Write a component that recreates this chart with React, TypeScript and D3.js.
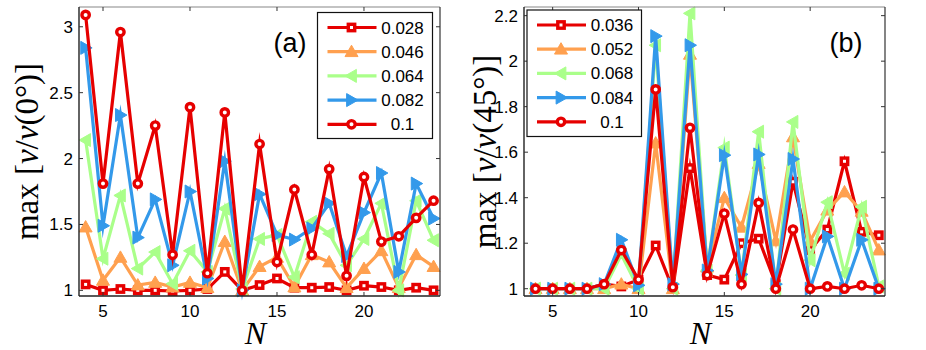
import React, { useEffect, useRef } from "react";
import * as d3 from "d3";

// N values shared by both panels
const nValues = [4, 5, 6, 7, 8, 9, 10, 11, 12, 13, 14, 15, 16, 17, 18, 19, 20, 21, 22, 23, 24];
const xTicks = [5, 10, 15, 20];
const yTicksA = [1, 1.5, 2, 2.5, 3];
const yTicksB = [1, 1.2, 1.4, 1.6, 1.8, 2, 2.2];

// panel (a): max[v/v(0°)]
const labelsA = ["0.028", "0.046", "0.064", "0.082", "0.1"];
const a028 = [1.045, 1.0, 1.01, 1.0, 1.0, 0.995, 1.0, 1.01, 1.14, 1.0, 1.04, 1.09, 1.02, 1.02, 1.025, 1.0, 1.035, 1.025, 1.0, 1.02, 1.0];
const a046 = [1.48, 1.076, 1.25, 1.04, 1.06, 1.025, 1.06, 1.02, 1.37, 1.0, 1.18, 1.25, 1.025, 1.27, 1.215, 1.02, 1.165, 1.3, 1.02, 1.27, 1.18];
const a064 = [2.14, 1.24, 1.72, 1.165, 1.29, 1.05, 1.3, 1.14, 1.62, 1.01, 1.39, 1.42, 1.1, 1.52, 1.43, 1.19, 1.39, 1.66, 1.0, 1.68, 1.38];
const a082 = [2.84, 1.49, 2.33, 1.4, 1.69, 1.19, 1.75, 1.09, 1.98, 1.0, 1.73, 1.42, 1.385, 1.47, 1.66, 1.26, 1.59, 1.89, 1.14, 1.81, 1.545];
const a100 = [3.09, 1.81, 2.96, 1.81, 2.25, 1.27, 2.39, 1.13, 2.35, 1.0, 2.11, 1.215, 1.765, 1.27, 1.92, 1.11, 1.86, 1.37, 1.41, 1.55, 1.68];

// panel (b): max[v/v(45°)]
const labelsB = ["0.036", "0.052", "0.068", "0.084", "0.1"];
const b036 = [1.0, 1.0, 1.0, 1.0, 1.02, 1.01, 1.04, 1.19, 1.0, 1.53, 1.06, 1.04, 1.2, 1.22, 1.02, 1.47, 1.17, 1.26, 1.56, 1.25, 1.235];
const b052 = [1.0, 1.0, 1.0, 1.0, 1.0, 1.02, 1.0, 1.64, 1.0, 2.03, 1.095, 1.4, 1.27, 1.55, 1.21, 1.667, 1.21, 1.345, 1.425, 1.34, 1.17];
const b068 = [1.0, 1.0, 1.0, 1.0, 1.0, 1.15, 1.0, 2.07, 1.0, 2.21, 1.08, 1.62, 1.06, 1.69, 1.0, 1.733, 1.125, 1.38, 1.066, 1.36, 1.01];
const b084 = [1.0, 1.0, 1.0, 1.0, 1.02, 1.215, 1.015, 2.11, 1.02, 2.07, 1.08, 1.587, 1.063, 1.59, 1.02, 1.57, 1.0, 1.23, 1.0, 1.215, 1.0];
const b100 = [1.0, 1.0, 1.0, 1.0, 1.02, 1.17, 1.04, 1.876, 1.007, 1.707, 1.06, 1.33, 1.02, 1.377, 1.0, 1.26, 1.0, 1.01, 1.0, 1.015, 1.0];

const colors = ["#e60000", "#ffa04f", "#aaff8a", "#3399ea", "#e60000"];
const markers = ["square", "up", "left", "right", "circle"];

const SANS = "'Liberation Sans', Arial, sans-serif";
const SERIF = "'Liberation Serif', 'Times New Roman', serif";

function drawMarker(g, type, x, y, color) {
  if (type === "square") {
    g.append("rect")
      .attr("x", x - 3.2).attr("y", y - 3.2).attr("width", 6.4).attr("height", 6.4)
      .attr("fill", "#fff").attr("stroke", color).attr("stroke-width", 3.4);
  } else if (type === "circle") {
    g.append("circle")
      .attr("cx", x).attr("cy", y).attr("r", 3.7)
      .attr("fill", "#fff").attr("stroke", color).attr("stroke-width", 3.4);
  } else {
    const s = 6.5;
    let pts;
    if (type === "up") pts = [[x, y - s], [x + s, y + s * 0.75], [x - s, y + s * 0.75]];
    else if (type === "left") pts = [[x - s, y], [x + s * 0.75, y - s], [x + s * 0.75, y + s]];
    else pts = [[x + s, y], [x - s * 0.75, y - s], [x - s * 0.75, y + s]];
    g.append("path")
      .attr("d", "M" + pts.map(p => p.join(",")).join("L") + "Z")
      .attr("fill", color).attr("stroke", color).attr("stroke-width", 1);
  }
}

function drawPanel(svg, opts) {
  const { left, right, top, bottom, xDomain, yDomain, yTicks, series, labels, legend, tag, tagX, yLabel, yLabelX, yFmt } = opts;
  const x = d3.scaleLinear().domain(xDomain).range([left, right]);
  const y = d3.scaleLinear().domain(yDomain).range([bottom, top]);
  const g = svg.append("g");

  // data lines
  const line = d3.line().x((d, i) => x(nValues[i])).y(d => y(d));
  series.forEach((s, k) => {
    const sg = g.append("g");
    sg.append("path")
      .attr("d", line(s))
      .attr("fill", "none")
      .attr("stroke", colors[k])
      .attr("stroke-width", 3.2)
      .attr("stroke-linejoin", "miter")
      .attr("stroke-miterlimit", 8);
    s.forEach((v, i) => drawMarker(sg, markers[k], x(nValues[i]), y(v), colors[k]));
  });

  // frame + inward ticks on all sides
  const frame = g.append("g");
  frame.append("line").attr("x1", left).attr("x2", right).attr("y1", top).attr("y2", top).attr("stroke", "#888").attr("stroke-width", 1.2);
  frame.append("line").attr("x1", right).attr("x2", right).attr("y1", top).attr("y2", bottom).attr("stroke", "#333").attr("stroke-width", 1.2);
  frame.append("line").attr("x1", left).attr("x2", left).attr("y1", top).attr("y2", bottom).attr("stroke", "#222").attr("stroke-width", 1.4);
  frame.append("line").attr("x1", left).attr("x2", right).attr("y1", bottom).attr("y2", bottom).attr("stroke", "#222").attr("stroke-width", 1.4);

  xTicks.forEach(t => {
    const px = x(t);
    frame.append("line").attr("x1", px).attr("x2", px).attr("y1", bottom).attr("y2", bottom - 4).attr("stroke", "#333");
    frame.append("line").attr("x1", px).attr("x2", px).attr("y1", top).attr("y2", top + 4).attr("stroke", "#333");
    frame.append("text").attr("x", px).attr("y", 317).attr("text-anchor", "middle")
      .attr("font-family", SANS).attr("font-size", 17).text(t);
  });
  yTicks.forEach(t => {
    const py = y(t);
    frame.append("line").attr("x1", left).attr("x2", left + 4).attr("y1", py).attr("y2", py).attr("stroke", "#333");
    frame.append("line").attr("x1", right).attr("x2", right - 4).attr("y1", py).attr("y2", py).attr("stroke", "#333");
    frame.append("text").attr("x", left - 6).attr("y", py + 6).attr("text-anchor", "end")
      .attr("font-family", SANS).attr("font-size", 17).text(yFmt(t));
  });

  // legend
  const lg = g.append("g");
  lg.append("rect")
    .attr("x", legend.x).attr("y", legend.y).attr("width", legend.w).attr("height", legend.h)
    .attr("fill", "#fff").attr("stroke", "#111").attr("stroke-width", 1.2);
  labels.forEach((lab, k) => {
    const ly = legend.y + 15 + k * 24.2;
    lg.append("line").attr("x1", legend.x + 10).attr("x2", legend.x + 59).attr("y1", ly).attr("y2", ly)
      .attr("stroke", colors[k]).attr("stroke-width", 3.2);
    drawMarker(lg, markers[k], legend.x + 34, ly, colors[k]);
    lg.append("text").attr("x", legend.x + 85).attr("y", ly + 6).attr("text-anchor", "middle")
      .attr("font-family", SANS).attr("font-size", 17).text(lab);
  });

  // panel tag
  g.append("text").attr("x", tagX).attr("y", 52).attr("text-anchor", "middle")
    .attr("font-family", SANS).attr("font-size", 27).text(tag);

  // axis labels
  g.append("text").attr("x", (left + right) / 2 - 4).attr("y", 344).attr("text-anchor", "middle")
    .attr("font-family", SERIF).attr("font-style", "italic").attr("font-size", 32).text("N");

  const yl = g.append("text")
    .attr("transform", `translate(${yLabelX},${(top + bottom) / 2}) rotate(-90)`)
    .attr("text-anchor", "middle").attr("font-family", SERIF).attr("font-size", 33);
  yl.append("tspan").text("max [");
  yl.append("tspan").attr("font-style", "italic").text("v");
  yl.append("tspan").text("/");
  yl.append("tspan").attr("font-style", "italic").text("v");
  yl.append("tspan").text(yLabel + "]");
}

export default function App() {
  const ref = useRef(null);

  useEffect(() => {
    const svg = d3.select(ref.current);
    svg.selectAll("*").remove();
    svg.append("rect").attr("width", 926).attr("height", 350).attr("fill", "#fff");

    drawPanel(svg, {
      left: 79, right: 440, top: 7, bottom: 296,
      xDomain: [3.62, 24.37], yDomain: [0.957, 3.15], yTicks: yTicksA,
      series: [a028, a046, a064, a082, a100], labels: labelsA,
      legend: { x: 317.5, y: 12.5, w: 115, h: 126 },
      tag: "(a)", tagX: 290, yLabel: "(0°)", yLabelX: 38,
      yFmt: d3.format("~g")
    });
    drawPanel(svg, {
      left: 524, right: 885, top: 7, bottom: 296,
      xDomain: [3.33, 24.36], yDomain: [0.968, 2.238], yTicks: yTicksB,
      series: [b036, b052, b068, b084, b100], labels: labelsB,
      legend: { x: 527, y: 10, w: 114.5, h: 126.5 },
      tag: "(b)", tagX: 846, yLabel: "(45°)", yLabelX: 496,
      yFmt: d3.format("~g")
    });
  }, []);

  return (
    <div style={{ position: "absolute", left: 0, top: 0 }}>
      <svg ref={ref} width={926} height={350} style={{ display: "block" }} />
    </div>
  );
}
